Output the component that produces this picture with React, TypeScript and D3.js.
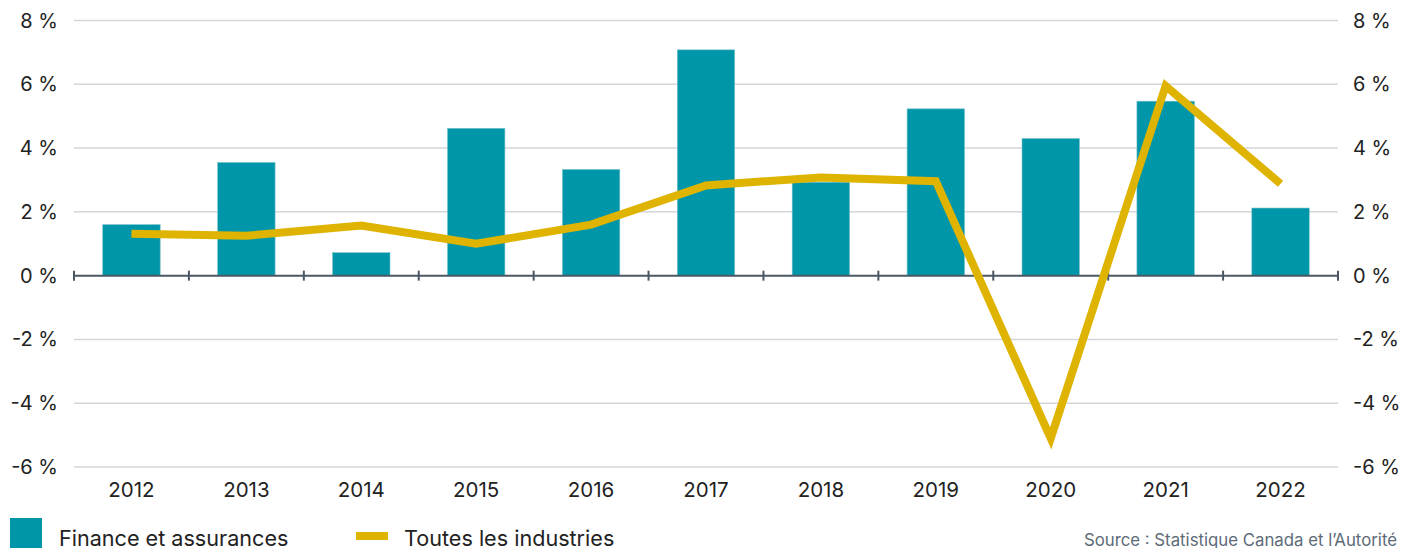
import React from "react";
import * as d3 from "d3";

const years = ["2012","2013","2014","2015","2016","2017","2018","2019","2020","2021","2022"];
const finance = [1.6, 3.55, 0.72, 4.62, 3.33, 7.08, 2.93, 5.23, 4.3, 5.47, 2.12];
const allIndustries = [1.31, 1.25, 1.57, 1.0, 1.6, 2.83, 3.08, 2.96, -5.1, 5.95, 2.88];
const yTicks = [8, 6, 4, 2, 0, -2, -4, -6];
const legendLabels = ["Finance et assurances", "Toutes les industries"];
const sourceText = "Source : Statistique Canada et l\u2019Autorité";

const W = 1406, H = 548;
const FONT = "Inter, 'Noto Sans', sans-serif";
const BAR = "#0096a9";
const LINE = "#deb400";

export default function App() {
  const x = d3.scaleBand<string>().domain(years).range([74, 1338]).paddingInner(0).paddingOuter(0);
  const y = d3.scaleLinear().domain([-6, 8]).range([467, 20.5]);
  const bw = x.bandwidth() * 0.5;
  const line = d3.line<number>()
    .x((_, i) => (x(years[i]) as number) + x.bandwidth() / 2)
    .y((d) => y(d));
  const boundaries = years.map((yr) => x(yr) as number).concat([1338]);
  return (
    <div style={{ position: "absolute", left: 0, top: 0 }}>
      <svg width={W} height={H} style={{ display: "block", fontFamily: FONT }}>
        {yTicks.filter((t) => t !== 0).map((t) => (
          <line key={t} x1={74} x2={1338} y1={y(t)} y2={y(t)} stroke="#d3d6da" strokeWidth={1.5} />
        ))}
        {yTicks.map((t) => (
          <g key={"l" + t}>
            <text x={58} y={y(t)} dy="0.35em" textAnchor="end" fontSize={20} fill="#222">{`${t} %`}</text>
            <text x={1353} y={y(t)} dy="0.35em" textAnchor="start" fontSize={20} fill="#222">{`${t} %`}</text>
          </g>
        ))}
        {finance.map((v, i) => {
          const cx = (x(years[i]) as number) + x.bandwidth() / 2;
          return (
            <rect key={years[i]} x={cx - bw / 2} width={bw}
              y={y(Math.max(0, v))} height={Math.abs(y(v) - y(0))}
              fill={BAR} stroke="#7cc3cc" strokeWidth={0.6} />
          );
        })}
        <line x1={74} x2={1338} y1={y(0)} y2={y(0)} stroke="#4b5864" strokeWidth={2} />
        {boundaries.map((b, i) => (
          <line key={"t" + i} x1={b} x2={b} y1={y(0) - 5} y2={y(0) + 5} stroke="#4b5864" strokeWidth={2} />
        ))}
        <path d={line(allIndustries) || ""} fill="none" stroke={LINE} strokeWidth={8}
          strokeLinejoin="miter" strokeMiterlimit={10} />
        {years.map((yr) => (
          <text key={"x" + yr} x={(x(yr) as number) + x.bandwidth() / 2} y={497} textAnchor="middle" fontSize={20.5} fill="#222">{yr}</text>
        ))}
        <rect x={10} y={518} width={32} height={32} fill={BAR} />
        <text x={59} y={546} fontSize={21.6} fill="#222">{legendLabels[0]}</text>
        <rect x={356} y={532} width={32} height={8} fill={LINE} />
        <text x={404} y={546} fontSize={21.6} fill="#222">{legendLabels[1]}</text>
        <text x={1397} y={546} textAnchor="end" fontSize={16.8} fill="#5d6b78">{sourceText}</text>
      </svg>
    </div>
  );
}
